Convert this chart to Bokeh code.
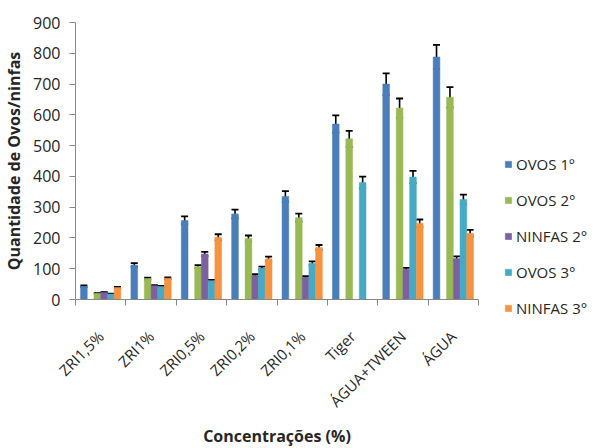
import numpy as np
from bokeh.plotting import figure
from bokeh.models import (ColumnDataSource, Range1d, FixedTicker, Whisker, TeeHead,
                          Legend, LegendItem)
from bokeh.embed import file_html
from bokeh.resources import INLINE

categories = ["ZRI1,5%", "ZRI1%", "ZRI0,5%", "ZRI0,2%", "ZRI0,1%", "Tiger", "ÁGUA+TWEEN", "ÁGUA"]
series_names = ["OVOS 1º", "OVOS 2°", "NINFAS 2°", "OVOS 3°", "NINFAS 3°"]

ovos1 = [43, 112, 257, 278, 335, 570, 700, 788]
ovos2 = [20, 68, 107, 198, 266, 522, 622, 657]
ninfas2 = [23, 45, 148, 78, 72, None, 98, 133]
ovos3 = [18, 42, 61, 102, 118, 380, 398, 325]
ninfas3 = [39, 69, 202, 132, 169, None, 248, 215]

err_ovos1 = [3, 6, 13, 14, 17, 28, 35, 39]
err_ovos2 = [1, 3, 5, 10, 13, 26, 31, 33]
err_ninfas2 = [1, 2, 7, 4, 4, None, 5, 7]
err_ovos3 = [1, 2, 3, 5, 6, 19, 20, 16]
err_ninfas3 = [2, 3, 10, 7, 8, None, 12, 11]

colors = ["#4A7EBB", "#98B954", "#7D60A0", "#46AAC5", "#F69240"]

FONT = "Open Sans"
TXT = "#262626"

n = len(categories)
p = figure(frame_width=403, frame_height=277, output_backend="svg", toolbar_location=None,
           x_range=Range1d(0, n), y_range=Range1d(0, 900),
           min_border_left=70, min_border_right=108, min_border_top=22, min_border_bottom=100)
p.outline_line_color = None
p.xgrid.visible = False
p.ygrid.visible = False

# six slots per group (second slot is empty), gap 150%
w = 1.0 / 7.5
slots = [0, 2, 3, 4, 5]
all_vals = [ovos1, ovos2, ninfas2, ovos3, ninfas3]
all_errs = [err_ovos1, err_ovos2, err_ninfas2, err_ovos3, err_ninfas3]

items = []
for k, (vals, errs) in enumerate(zip(all_vals, all_errs)):
    off = -0.5 + (1.25 + slots[k]) * w
    xs, tops, ups, los = [], [], [], []
    for i, (v, e) in enumerate(zip(vals, errs)):
        if v is None:
            continue
        xs.append(i + 0.5 + off)
        tops.append(v)
        ups.append(v + e)
        los.append(v - e)
    src = ColumnDataSource(dict(x=xs, top=tops, upper=ups, lower=los))
    r = p.vbar(x="x", top="top", width=w, bottom=0, source=src,
               fill_color=colors[k], line_color=colors[k], line_width=0.5)
    items.append(LegendItem(label=series_names[k], renderers=[r]))
    wh = Whisker(source=src, base="x", upper="upper", lower="lower", dimension="height",
                 line_color="black", line_width=1.6,
                 upper_head=TeeHead(size=7, line_color="black", line_width=1.8),
                 lower_head=TeeHead(size=7, line_color="black", line_width=1.8))
    p.add_layout(wh)

# axes
centers = [i + 0.5 for i in range(n)]
bounds = [float(i) for i in range(n + 1)]
p.xaxis.ticker = FixedTicker(ticks=centers, minor_ticks=bounds)
p.xaxis.major_label_overrides = {c: lab for c, lab in zip(centers, categories)}
p.xaxis.major_tick_out = 0
p.xaxis.major_tick_in = 0
p.xaxis.minor_tick_out = 6
p.xaxis.minor_tick_in = 0
p.xaxis.minor_tick_line_color = "#888888"
p.xaxis.major_label_orientation = np.pi / 4
p.xaxis.major_label_standoff = 28
p.xaxis.axis_line_color = "#888888"
p.xaxis.axis_label = "Concentrações (%)"
p.xaxis.axis_label_standoff = 4
p.xaxis.major_label_text_font_size = "15px"

p.yaxis.ticker = FixedTicker(ticks=list(range(0, 901, 100)))
p.yaxis.minor_tick_line_color = None
p.yaxis.major_tick_out = 6
p.yaxis.major_tick_in = 0
p.yaxis.major_tick_line_color = "#888888"
p.yaxis.axis_line_color = "#888888"
p.yaxis.major_label_standoff = 9
p.yaxis.axis_label = "Quantidade de Ovos/ninfas"
p.yaxis.axis_label_standoff = 5
p.yaxis.major_label_text_font_size = "16px"

for ax in (p.xaxis, p.yaxis):
    ax.major_label_text_font = FONT
    ax.major_label_text_color = TXT
    ax.axis_label_text_font = FONT
    ax.axis_label_text_font_size = "16px"
    ax.axis_label_text_font_style = "bold"
    ax.axis_label_text_color = TXT

legend = Legend(items=items, location=(26, -19), orientation="vertical")
legend.padding = 0
legend.margin = 0
legend.border_line_color = None
legend.background_fill_alpha = 0
legend.glyph_width = 8
legend.glyph_height = 8
legend.label_height = 20
legend.spacing = 16
legend.label_standoff = 4
legend.label_text_font = FONT
legend.label_text_font_size = "15px"
legend.label_text_color = TXT
legend.label_text_baseline = "middle"
p.add_layout(legend, "right")

open("out.html", "w").write(file_html(p, INLINE))
